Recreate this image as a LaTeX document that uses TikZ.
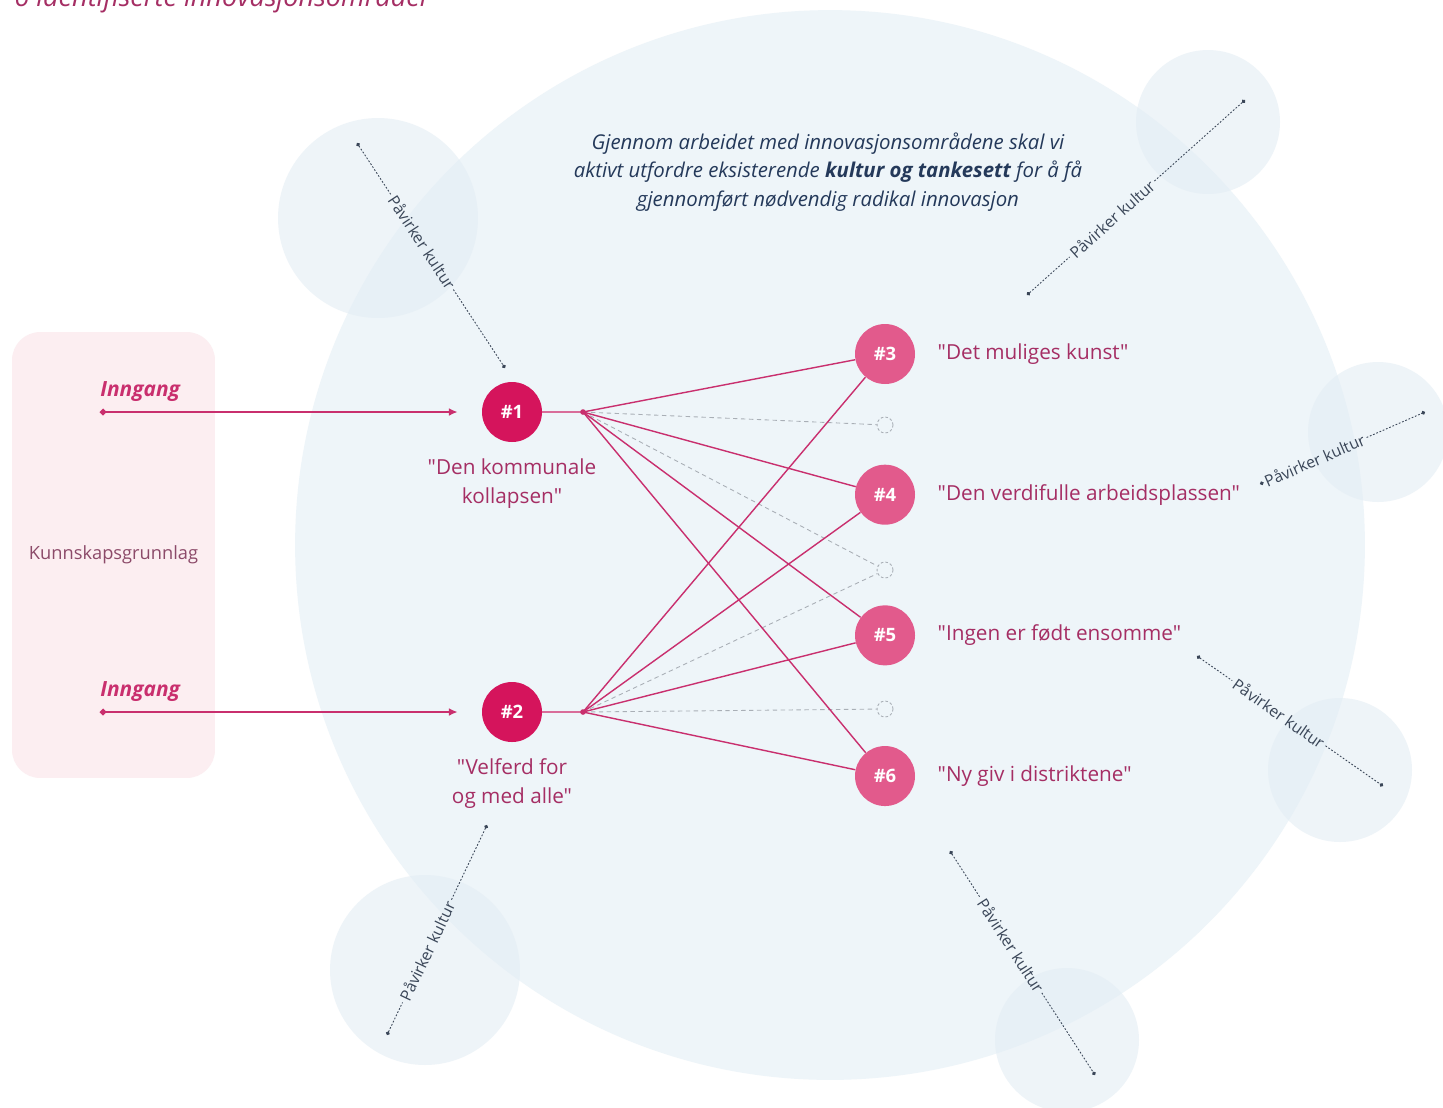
\documentclass[tikz,border=0pt]{standalone}
\usepackage{fontspec}
\setmainfont[Ligatures=TeXOff]{Open Sans}
\usetikzlibrary{positioning,arrows.meta}

\definecolor{circleblue}{HTML}{EEF5F9}
\definecolor{bubbleblue}{HTML}{E3EDF4}
\definecolor{basepink}{HTML}{FCEEF1}
\definecolor{startpink}{HTML}{D5145C}
\definecolor{areapink}{HTML}{E25A8C}
\definecolor{linkpink}{HTML}{C92F6E}
\definecolor{labelpink}{HTML}{A52E64}
\definecolor{basetext}{HTML}{8C4A69}
\definecolor{ghostgrey}{HTML}{A9AFB6}
\definecolor{inkgrey}{HTML}{3A4658}
\definecolor{introblue}{HTML}{24395A}

\begin{document}
\begin{tikzpicture}[
    x=0.02cm, y=-0.02cm,
    startnode/.style={
        circle,
        fill=startpink,
        text=white,
        font=\bfseries\fontsize{10.5}{12}\selectfont,
        minimum size=1.2cm,
        inner sep=0pt
    },
    areanode/.style={startnode, fill=areapink},
    ghost/.style={circle, draw=ghostgrey, dash pattern=on 1.5pt off 1.2pt, line width=0.5pt, minimum size=0.32cm, inner sep=0pt},
    arealabel/.style={font=\fontsize{11.8}{16.4}\selectfont, text=labelpink, align=center, inner sep=0pt},
    ingang/.style={font=\bfseries\itshape\fontsize{11.9}{13}\selectfont, text=linkpink, inner sep=0pt},
    entry/.style={draw=linkpink, line width=1.4pt, {Circle[length=3.5pt]}-{Latex[length=5pt,width=4.5pt]}, shorten >=0.48cm},
    link/.style={draw=linkpink, line width=0.8pt},
    ghostlink/.style={draw=ghostgrey, dash pattern=on 2.5pt off 2pt, line width=0.5pt},
    culture/.style={draw=inkgrey, line width=0.5pt, dash pattern=on 1pt off 1pt},
    cultlabel/.style={sloped, font=\fontsize{9}{10}\selectfont, text=inkgrey, inner sep=1.5pt},
    bubble/.style={fill=bubbleblue, fill opacity=0.6}
]
    \useasboundingbox (0,0) rectangle (1443,1107);
    \fill[white] (0,0) rectangle (1443,1107);

    % Background circles
    \fill[circleblue] (830,545) circle (10.7cm);
    \fill[bubble] (378,218) circle (2cm);
    \fill[bubble] (1208,122) circle (1.44cm);
    \fill[bubble] (1378,432) circle (1.4cm);
    \fill[bubble] (1340,770) circle (1.44cm);
    \fill[bubble] (425,970) circle (1.9cm);
    \fill[bubble] (1067,1040) circle (1.44cm);

    % Title and intro text
    \node[anchor=base west, font=\itshape\fontsize{15.4}{18}\selectfont, text=labelpink, inner sep=0pt] (title) at (14,6) {6 identifiserte innovasjonsområder};
    \node[align=center, font=\itshape\fontsize{11.6}{16.4}\selectfont, text=introblue] (intro) at (828,172)
        {Gjennom arbeidet med innovasjonsområdene skal vi\\
         aktivt utfordre eksisterende \textbf{kultur og tankesett} for å få\\
         gjennomført nødvendig radikal innovasjon};

    % Knowledge base
    \node[fill=basepink, rounded corners=16pt, minimum width=4.06cm, minimum height=8.92cm,
          font=\fontsize{10.4}{12}\selectfont, text=basetext] (base) at (113.5,555) {Kunnskapsgrunnlag};

    % Define nodes
    \node[startnode] (n1) at (512,412) {\#1};
    \node[startnode] (n2) at (512,712) {\#2};
    \node[areanode] (n3) at (885,354) {\#3};
    \node[areanode, below=1.6cm of n3] (n4) {\#4};
    \node[areanode, below=1.6cm of n4] (n5) {\#5};
    \node[areanode, below=1.6cm of n5] (n6) {\#6};
    \node[ghost] (g1) at (885,425) {};
    \node[ghost] (g2) at (885,570) {};
    \node[ghost] (g3) at (885,709) {};
    \coordinate (h1) at (583,412);
    \coordinate (h2) at (583,712);

    % Labels
    \node[arealabel, below=0.32cm of n1] (l1) {"Den kommunale\\kollapsen"};
    \node[arealabel, below=0.32cm of n2] (l2) {"Velferd for\\og med alle"};
    \node[arealabel, right=0.44cm of n3] (l3) {"Det muliges kunst"};
    \node[arealabel, right=0.44cm of n4] (l4) {"Den verdifulle arbeidsplassen"};
    \node[arealabel, right=0.44cm of n5] (l5) {"Ingen er født ensomme"};
    \node[arealabel, right=0.44cm of n6] (l6) {"Ny giv i distriktene"};

    % Entries
    \coordinate (in1) at (100,412);
    \coordinate (in2) at (100,712);
    \node[ingang, above right=0.2cm and 0cm of in1] (e1) {Inngang};
    \node[ingang, above right=0.2cm and 0cm of in2] (e2) {Inngang};
    \draw[entry] (in1) -- (n1);
    \draw[entry] (in2) -- (n2);

    % Links between areas
    \draw[link, line width=0.6pt, linkpink!70] (n1) -- (h1);
    \draw[link, line width=0.6pt, linkpink!70] (n2) -- (h2);
    \draw[ghostlink] (h1) -- (g1);
    \draw[ghostlink] (h1) -- (g2);
    \draw[ghostlink] (h2) -- (g2);
    \draw[ghostlink] (h2) -- (g3);
    \draw[link] (h1) -- (n3);
    \draw[link] (h1) -- (n4);
    \draw[link] (h1) -- (n5);
    \draw[link] (h1) -- (n6);
    \draw[link] (h2) -- (n3);
    \draw[link] (h2) -- (n4);
    \draw[link] (h2) -- (n5);
    \draw[link] (h2) -- (n6);
    \fill[linkpink] (h1) circle (1.6pt);
    \fill[linkpink] (h2) circle (1.6pt);

    % Culture influence lines
    \coordinate (k1a) at (357,143);  \coordinate (k1b) at (505,368);
    \coordinate (k2a) at (1027,295); \coordinate (k2b) at (1245,100);
    \coordinate (k3a) at (1260,484); \coordinate (k3b) at (1425,412);
    \coordinate (k4a) at (1197,656); \coordinate (k4b) at (1383,786);
    \coordinate (k5a) at (387,1035); \coordinate (k5b) at (487,825);
    \coordinate (k6a) at (950,851);  \coordinate (k6b) at (1095,1075);
    \path (k1a) -- node[cultlabel, pos=0.44] (k1) {Påvirker kultur} (k1b);
    \path (k2a) -- node[cultlabel, pos=0.39] (k2) {Påvirker kultur} (k2b);
    \path (k3a) -- node[cultlabel, pos=0.33] (k3) {Påvirker kultur} (k3b);
    \path (k4a) -- node[cultlabel, pos=0.44] (k4) {Påvirker kultur} (k4b);
    \path (k5a) -- node[cultlabel, pos=0.40] (k5) {Påvirker kultur} (k5b);
    \path (k6a) -- node[cultlabel, pos=0.42] (k6) {Påvirker kultur} (k6b);
    \draw[culture, {Circle[length=2.2pt]}-] (k1a) -- (k1);
    \draw[culture, -{Circle[length=2.2pt]}] (k1) -- (k1b);
    \draw[culture, {Circle[length=2.2pt]}-] (k2a) -- (k2);
    \draw[culture, -{Circle[length=2.2pt]}] (k2) -- (k2b);
    \draw[culture, {Circle[length=2.2pt]}-] (k3a) -- (k3);
    \draw[culture, -{Circle[length=2.2pt]}] (k3) -- (k3b);
    \draw[culture, {Circle[length=2.2pt]}-] (k4a) -- (k4);
    \draw[culture, -{Circle[length=2.2pt]}] (k4) -- (k4b);
    \draw[culture, {Circle[length=2.2pt]}-] (k5a) -- (k5);
    \draw[culture, -{Circle[length=2.2pt]}] (k5) -- (k5b);
    \draw[culture, {Circle[length=2.2pt]}-] (k6a) -- (k6);
    \draw[culture, -{Circle[length=2.2pt]}] (k6) -- (k6b);
\end{tikzpicture}
\end{document}
